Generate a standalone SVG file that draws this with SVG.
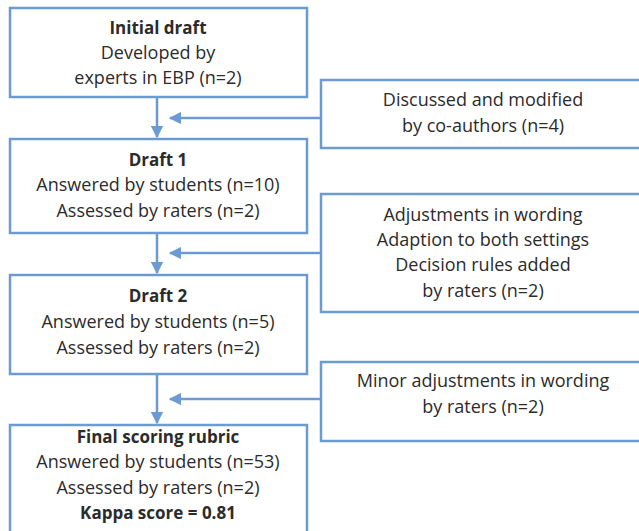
<svg xmlns="http://www.w3.org/2000/svg" width="639" height="531" viewBox="0 0 639 531">
  <style>
    .box { fill: #ffffff; stroke: #6b9bd2; stroke-width: 2.5; }
    .link { fill: none; stroke: #6b9bd2; stroke-width: 2.5; }
    text { font-family: "Open Sans", "Liberation Sans", sans-serif; font-size: 18px; fill: #2b2b2b; text-anchor: middle; }
    .b { font-weight: bold; font-size: 17px; }
  </style>
  <defs>
    <marker id="arrow" viewBox="0 0 10 10" refX="9" refY="5" markerWidth="5" markerHeight="5" orient="auto" markerUnits="strokeWidth">
      <path d="M0,0 L10,5 L0,10 z" fill="#6b9bd2"/>
    </marker>
  </defs>
  <rect width="639" height="531" fill="#ffffff"/>

  <g id="connectors">
    <line class="link" x1="157" y1="97" x2="157" y2="137" marker-end="url(#arrow)"/>
    <line class="link" x1="321" y1="118" x2="170" y2="118" marker-end="url(#arrow)"/>
    <line class="link" x1="157" y1="233" x2="157" y2="273" marker-end="url(#arrow)"/>
    <line class="link" x1="321" y1="253" x2="170" y2="253" marker-end="url(#arrow)"/>
    <line class="link" x1="157" y1="374" x2="157" y2="423" marker-end="url(#arrow)"/>
    <line class="link" x1="321" y1="399" x2="170" y2="399" marker-end="url(#arrow)"/>
  </g>

  <g id="initial-draft">
    <rect class="box" x="10" y="8" width="297" height="89"/>
    <text class="b" x="158" y="34">Initial draft</text>
    <text x="158" y="59">Developed by</text>
    <text x="158" y="84">experts in EBP (n=2)</text>
  </g>

  <g id="discussed">
    <rect class="box" x="321" y="80" width="325" height="68"/>
    <text x="483" y="106">Discussed and modified</text>
    <text x="483" y="132">by co-authors (n=4)</text>
  </g>

  <g id="draft-1">
    <rect class="box" x="10" y="139" width="297" height="94"/>
    <text class="b" x="158" y="166">Draft 1</text>
    <text x="158" y="191">Answered by students (n=10)</text>
    <text x="158" y="217">Assessed by raters (n=2)</text>
  </g>

  <g id="adjustments">
    <rect class="box" x="321" y="194" width="325" height="118"/>
    <text x="483" y="221">Adjustments in wording</text>
    <text x="483" y="246">Adaption to both settings</text>
    <text x="483" y="271">Decision rules added</text>
    <text x="483" y="297">by raters (n=2)</text>
  </g>

  <g id="draft-2">
    <rect class="box" x="10" y="275" width="297" height="99"/>
    <text class="b" x="158" y="302">Draft 2</text>
    <text x="158" y="328">Answered by students (n=5)</text>
    <text x="158" y="354">Assessed by raters (n=2)</text>
  </g>

  <g id="minor-adjustments">
    <rect class="box" x="321" y="362" width="325" height="79"/>
    <text x="483" y="387">Minor adjustments in wording</text>
    <text x="483" y="413">by raters (n=2)</text>
  </g>

  <g id="final-rubric">
    <rect class="box" x="10" y="425" width="297" height="120"/>
    <text class="b" x="158" y="443">Final scoring rubric</text>
    <text x="158" y="468">Answered by students (n=53)</text>
    <text x="158" y="494">Assessed by raters (n=2)</text>
    <text class="b" x="158" y="519">Kappa score = 0.81</text>
  </g>
</svg>
